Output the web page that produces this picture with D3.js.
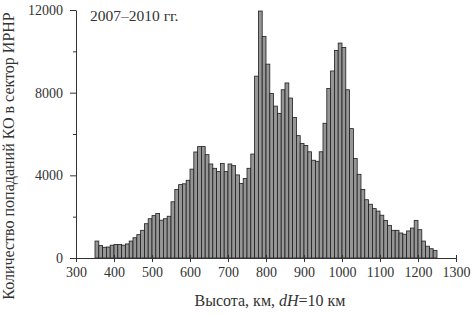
<!DOCTYPE html>
<html>
<head>
<meta charset="utf-8">
<script src="https://cdn.jsdelivr.net/npm/d3@7"></script>
<style>
  body { margin: 0; background: #fff; }
  text { font-family: "Liberation Serif", "Times New Roman", serif; fill: #333; }
</style>
</head>
<body>
<svg id="chart" width="473" height="315"></svg>
<script>
// left edges of 10 km bins, km
const binStarts = d3.range(350, 1250, 10);
// counts per bin
const counts = [
  820, 600, 520, 530, 620, 650, 650, 620, 680, 820,
  980, 1130, 1340, 1660, 1900, 2050, 2150, 1830, 1900, 2020,
  2720, 3310, 3550, 3590, 3760, 4300, 5130, 5390, 5390, 5000,
  4550, 4340, 4180, 4580, 4180, 4550, 4470, 4020, 3610, 3850,
  4340, 5030, 8800, 11950, 10720, 9380, 7960, 7350, 6990, 8140,
  8470, 7740, 6800, 5920, 5540, 5440, 5140, 4730, 4680, 5140,
  6520, 8200, 9050, 10040, 10400, 10190, 8140, 6260, 4810, 4050,
  3310, 2820, 2600, 2390, 2270, 2070, 1820, 1580, 1340, 1340,
  1210, 1150, 1310, 1450, 1820, 1370, 820, 570, 450, 370
];
const binWidth = 10;
const xTicks = d3.range(300, 1301, 100);
const yTicks = [0, 4000, 8000, 12000];
const yMinorTicks = [2000, 6000, 10000];
const yTitle = "Количество попаданий КО в сектор ИРНР";
const periodLabel = "2007–2010 гг.";

let svg = d3.select("#chart");

let xScale = d3.scaleLinear().domain([300, 1300]).range([76, 456]);
let yScale = d3.scaleLinear().domain([0, 12000]).range([258, 10]);

let data = binStarts.map((h, i) => ({h: h, n: counts[i]}));

// bars
svg.append("g")
  .selectAll("rect")
  .data(data)
  .enter()
  .append("rect")
  .attr("x", d => xScale(d.h))
  .attr("y", d => yScale(d.n))
  .attr("width", d => xScale(d.h + binWidth) - xScale(d.h))
  .attr("height", d => yScale(0) - yScale(d.n))
  .attr("fill", "#969696")
  .attr("stroke", "#1e1e1e")
  .attr("stroke-width", 0.8);

// x axis
let xAxis = d3.axisBottom(xScale).tickValues(xTicks).tickFormat(d3.format("d"))
  .tickSize(4).tickSizeOuter(0).tickPadding(5);
let gx = svg.append("g")
  .attr("transform", "translate(0," + yScale(0) + ")")
  .call(xAxis);
gx.selectAll(".tick line").attr("y1", -3);
gx.selectAll("text").style("font-size", "14px");

// y axis
let yAxis = d3.axisLeft(yScale).tickValues(yTicks).tickFormat(d3.format("d"))
  .tickSize(6).tickSizeOuter(0).tickPadding(7);
let gy = svg.append("g")
  .attr("transform", "translate(" + xScale(300) + ",0)")
  .call(yAxis);
gy.selectAll("text").style("font-size", "14px");

let yMinor = d3.axisLeft(yScale).tickValues(yMinorTicks).tickSize(3).tickSizeOuter(0).tickFormat("");
svg.append("g")
  .attr("transform", "translate(" + xScale(300) + ",0)")
  .call(yMinor)
  .select(".domain").remove();

svg.selectAll(".domain, .tick line").attr("stroke", "#333");

// titles
svg.append("text")
  .attr("transform", "translate(14,156) rotate(-90)")
  .attr("text-anchor", "middle")
  .style("font-size", "16px")
  .text(yTitle);

let xt = svg.append("text")
  .attr("x", 270)
  .attr("y", 306)
  .attr("text-anchor", "middle")
  .style("font-size", "16px");
xt.append("tspan").text("Высота, км, ");
xt.append("tspan").style("font-style", "italic").text("dH");
xt.append("tspan").text("=10 км");

svg.append("text")
  .attr("x", 90)
  .attr("y", 21)
  .style("font-size", "15.5px")
  .text(periodLabel);
</script>
</body>
</html>
